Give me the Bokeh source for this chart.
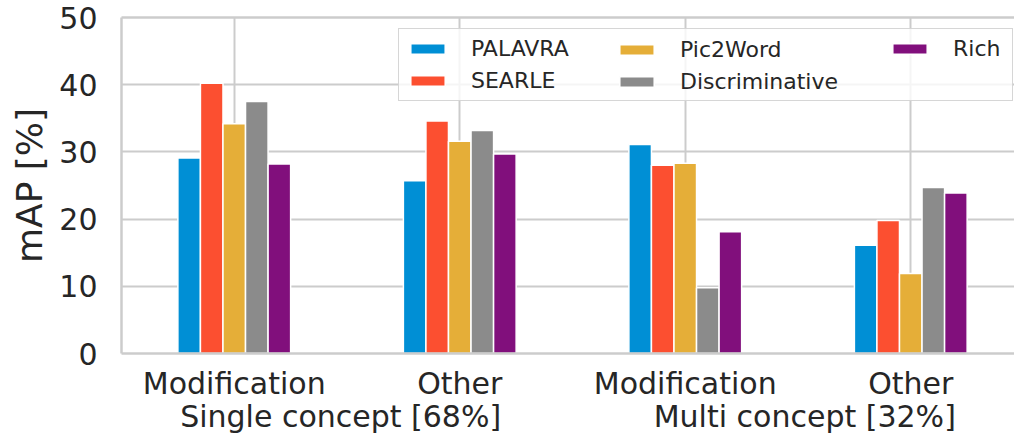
from bokeh.plotting import figure
from bokeh.models import Legend, LegendItem, LinearAxis, FixedTicker, Range1d
from bokeh.embed import file_html
from bokeh.resources import INLINE

# categories along the x axis
group_labels = ["Modification", "Other", "Modification", "Other"]
concept_label = "Single concept [68%]" + "\u00a0" * 16 + "Multi concept [32%]"

# methods and their colours
methods = ["PALAVRA", "SEARLE", "Pic2Word", "Discriminative", "Rich"]
colors = ["#008fd5", "#fc4f30", "#e5ae38", "#8b8b8b", "#810f7c"]

# mAP [%] per method, one value per category
palavra = [29.1, 25.7, 31.1, 16.1]
searle = [40.2, 34.6, 28.0, 19.8]
pic2word = [34.2, 31.6, 28.3, 11.9]
discriminative = [37.5, 33.2, 9.8, 24.7]
rich = [28.2, 29.7, 18.1, 23.9]
series = [palavra, searle, pic2word, discriminative, rich]

y_ticks = [0, 10, 20, 30, 40, 50]

FONT = "DejaVu Sans"
TEXT = "#262626"
SPINE = "#cccccc"

p = figure(
    width=1014, height=436,
    x_range=Range1d(-0.5, 3.46), y_range=Range1d(0, 50),
    output_backend="svg", toolbar_location=None,
    min_border_left=121, min_border_right=0,
    min_border_top=17, min_border_bottom=83,
)
p.outline_line_color = None
p.background_fill_color = "white"

bar_w = 0.1
offsets = [-0.2, -0.1, 0.0, 0.1, 0.2]
items = []
for name, vals, col, off in zip(methods, series, colors, offsets):
    xs = [i + off for i in range(len(vals))]
    r = p.vbar(x=xs, top=vals, bottom=0, width=bar_w,
               fill_color=col, line_color="white", line_width=1.5)
    items.append(LegendItem(label=name, renderers=[r]))

# x axis
xa = p.xaxis[0]
xa.ticker = FixedTicker(ticks=list(range(len(group_labels))))
xa.major_label_overrides = {i: lab for i, lab in enumerate(group_labels)}
xa.axis_label = concept_label
# y axis
ya = p.yaxis[0]
ya.ticker = FixedTicker(ticks=y_ticks)
ya.axis_label = "mAP [%]"

for ax in (xa, ya):
    ax.axis_line_color = SPINE
    ax.axis_line_width = 2.5
    ax.major_tick_line_color = None
    ax.minor_tick_line_color = None
    ax.major_tick_out = 0
    ax.major_tick_in = 0
    ax.major_label_text_font = FONT
    ax.major_label_text_font_size = "30px"
    ax.major_label_text_color = TEXT
    ax.axis_label_text_font = FONT
    ax.axis_label_text_font_style = "normal"
    ax.axis_label_text_color = TEXT

xa.axis_label_text_font_size = "30px"
xa.major_label_standoff = 12
xa.axis_label_standoff = -5
ya.axis_label_text_font_size = "36px"
ya.major_label_standoff = 24
ya.axis_label_standoff = 6

# top frame line
top = LinearAxis(ticker=FixedTicker(ticks=[]), axis_line_color=SPINE,
                 axis_line_width=2.5, major_tick_out=0, major_tick_in=0,
                 major_label_text_font_size="0px", major_label_standoff=0)
p.add_layout(top, "above")

# grid
p.xgrid.ticker = FixedTicker(ticks=list(range(len(group_labels))))
p.ygrid.ticker = FixedTicker(ticks=y_ticks)
for g in (p.xgrid[0], p.ygrid[0]):
    g.grid_line_color = SPINE
    g.grid_line_width = 2

# legend: three columns; the first one carries the shared frame
common = dict(glyph_width=43, glyph_height=13, label_standoff=22,
              spacing=7, padding=7,
              label_text_font=FONT, label_text_font_size="22px",
              label_text_color=TEXT, border_line_color=SPINE,
              border_line_width=1.5, background_fill_color="white")
leg1 = Legend(items=items[0:2], location=(277, 252), label_width=534,
              border_line_alpha=0.8, background_fill_alpha=0.8, **common)
leg2 = Legend(items=items[2:4], location=(487, 252),
              border_line_alpha=0, background_fill_alpha=0, **common)
leg3 = Legend(items=items[4:5], location=(760, 285),
              border_line_alpha=0, background_fill_alpha=0, **common)
for lg in (leg1, leg2, leg3):
    p.add_layout(lg, "center")

open("out.html", "w").write(file_html(p, INLINE))
